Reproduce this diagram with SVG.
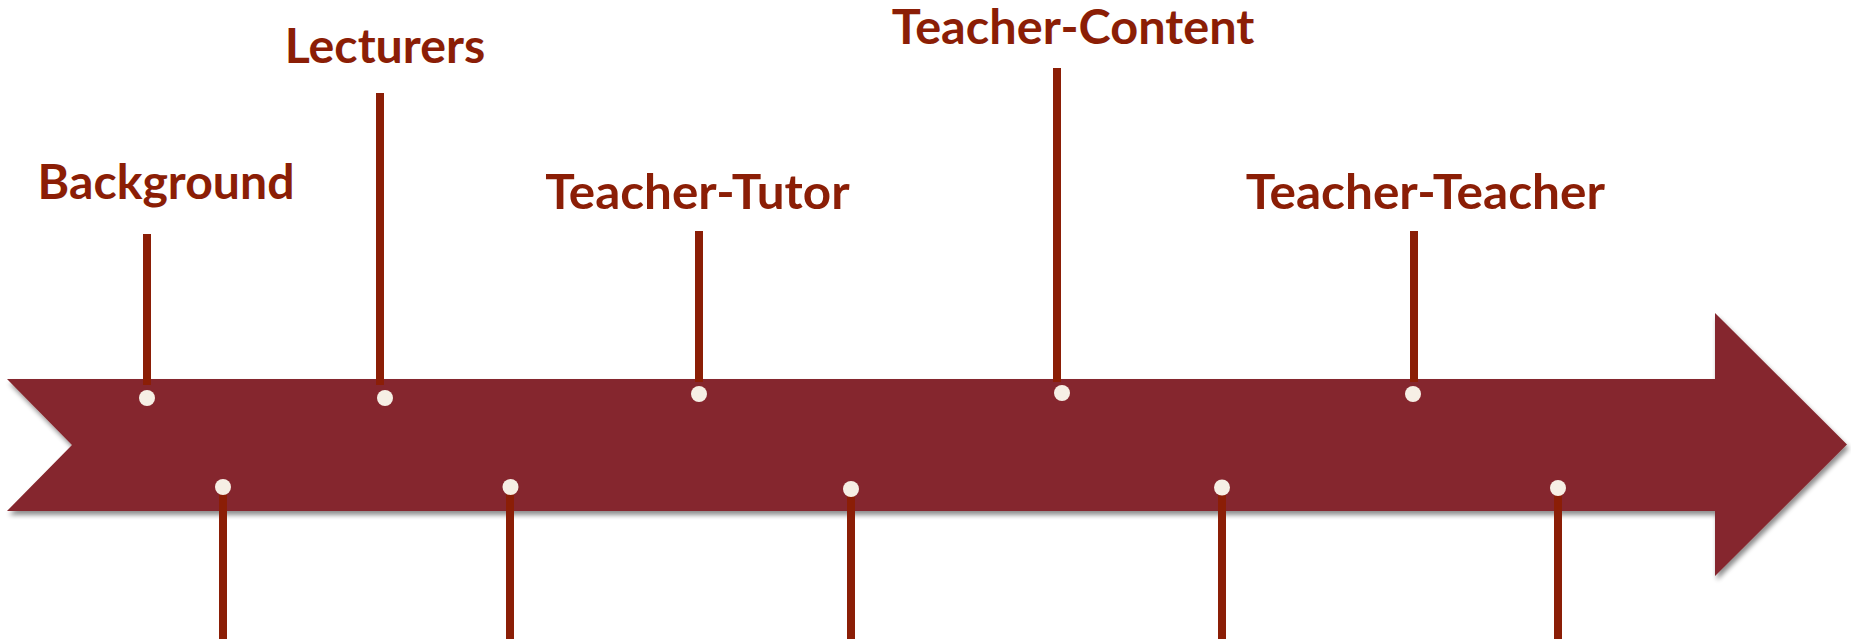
<svg xmlns="http://www.w3.org/2000/svg" width="1851" height="639" viewBox="0 0 1851 639">
  <style>
    .lbl { font-family: Lato, "Open Sans", "Liberation Sans", sans-serif; font-weight: bold; font-size: 47px; fill: #8B1E06; }
    .stem { stroke: #8B1E06; stroke-width: 8; fill: none; }
    .dot { fill: #F6EFE5; }
    .arrow { fill: #85282E; }
  </style>
  <defs>
    <filter id="shadow" x="-5%" y="-20%" width="110%" height="150%">
      <feGaussianBlur in="SourceAlpha" stdDeviation="2.5"/>
      <feOffset dx="2" dy="4" result="b"/>
      <feComponentTransfer><feFuncA type="linear" slope="0.45"/></feComponentTransfer>
      <feMerge><feMergeNode/><feMergeNode in="SourceGraphic"/></feMerge>
    </filter>
  </defs>
  <rect width="1851" height="639" fill="#FFFFFF"/>

  <g id="timeline-arrow">
    <polygon class="arrow" filter="url(#shadow)" points="7,379 1715,379 1715,313 1847,444.5 1715,576 1715,511 7,511 72,445"/>
  </g>

  <g id="connectors">
    <line class="stem" x1="147" y1="234" x2="147" y2="385"/>
    <line class="stem" x1="380" y1="93" x2="380" y2="385"/>
    <line class="stem" x1="699" y1="231" x2="699" y2="382"/>
    <line class="stem" x1="1057" y1="68" x2="1057" y2="382"/>
    <line class="stem" x1="1414" y1="231" x2="1414" y2="382"/>
    <line class="stem" x1="223" y1="488" x2="223" y2="639"/>
    <line class="stem" x1="510" y1="488" x2="510" y2="639"/>
    <line class="stem" x1="851" y1="490" x2="851" y2="639"/>
    <line class="stem" x1="1222" y1="488" x2="1222" y2="639"/>
    <line class="stem" x1="1558" y1="489" x2="1558" y2="639"/>
  </g>

  <g id="node-background">
    <text class="lbl" x="37.6" y="198.5" textLength="257" lengthAdjust="spacingAndGlyphs">Background</text>
    <circle class="dot" cx="147" cy="398" r="8"/>
  </g>
  <g id="node-lecturers">
    <text class="lbl" x="284.7" y="63.2" textLength="200.5" lengthAdjust="spacingAndGlyphs">Lecturers</text>
    <circle class="dot" cx="385" cy="398" r="8"/>
  </g>
  <g id="node-teacher-tutor">
    <text class="lbl" x="545.2" y="209" textLength="304.4" lengthAdjust="spacingAndGlyphs">Teacher-Tutor</text>
    <circle class="dot" cx="699" cy="394" r="8"/>
  </g>
  <g id="node-teacher-content">
    <text class="lbl" x="891.8" y="43.6" textLength="362.6" lengthAdjust="spacingAndGlyphs">Teacher-Content</text>
    <circle class="dot" cx="1062" cy="393" r="8"/>
  </g>
  <g id="node-teacher-teacher">
    <text class="lbl" x="1245.7" y="209.3" textLength="359.3" lengthAdjust="spacingAndGlyphs">Teacher-Teacher</text>
    <circle class="dot" cx="1413" cy="394" r="8"/>
  </g>

  <g id="bottom-markers">
    <circle class="dot" cx="223" cy="487" r="8"/>
    <circle class="dot" cx="510.5" cy="487" r="8"/>
    <circle class="dot" cx="851" cy="489" r="8"/>
    <circle class="dot" cx="1222" cy="487.5" r="8"/>
    <circle class="dot" cx="1558" cy="488" r="8"/>
  </g>
</svg>
